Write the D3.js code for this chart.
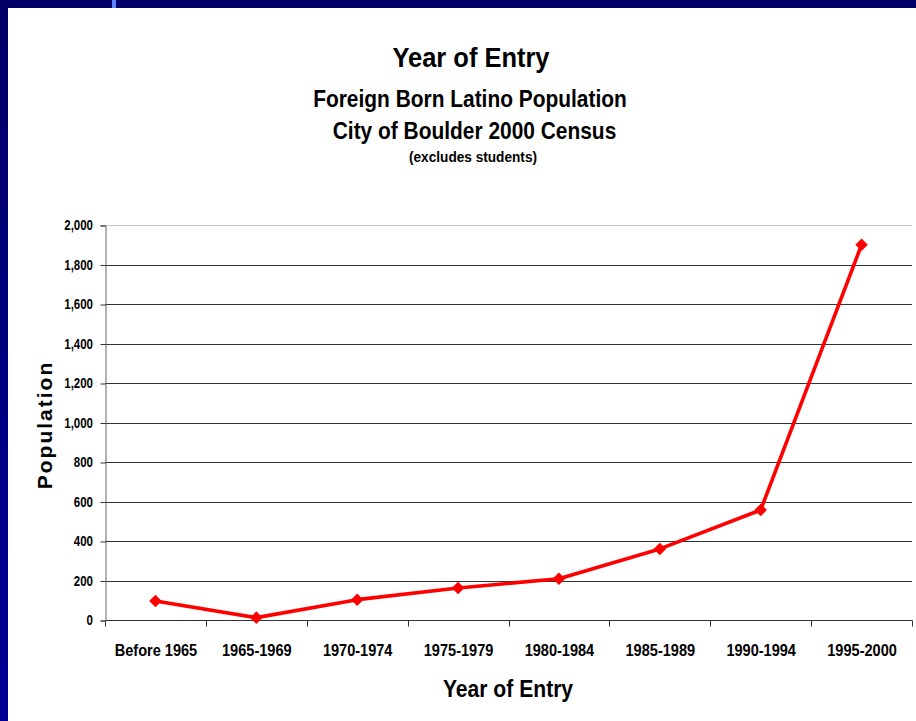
<!DOCTYPE html>
<html>
<head>
<meta charset="utf-8">
<script src="https://cdn.jsdelivr.net/npm/d3@7"></script>
<style>
  html, body { margin: 0; padding: 0; background: #fff; }
  svg { display: block; }
  text { font-family: "Liberation Sans", Arial, sans-serif; font-weight: bold; fill: #000; }
</style>
</head>
<body>
<svg id="chart" width="916" height="721"></svg>
<script>
const categories = ['Before 1965', '1965-1969', '1970-1974', '1975-1979', '1980-1984', '1985-1989', '1990-1994', '1995-2000'];
const population = [96, 12, 103, 162, 209, 360, 557, 1900];
const yTicks = [0, 200, 400, 600, 800, 1000, 1200, 1400, 1600, 1800, 2000];

const width = 916, height = 721;
const margin = { top: 225, right: 4, bottom: 101, left: 105 };
const squeeze = 0.91; // the original font is a bit narrower than Liberation Sans

const svg = d3.select('#chart');

// slide frame
const grad = svg.append('defs').append('linearGradient')
    .attr('id', 'side').attr('x1', 0).attr('y1', 0).attr('x2', 0).attr('y2', 1);
grad.append('stop').attr('offset', '0%').attr('stop-color', '#000066');
grad.append('stop').attr('offset', '100%').attr('stop-color', '#000099');
svg.append('rect').attr('x', 0).attr('y', 0).attr('width', width).attr('height', 8).attr('fill', '#000066');
svg.append('rect').attr('x', 0).attr('y', 0).attr('width', 8).attr('height', height).attr('fill', 'url(#side)');
svg.append('rect').attr('x', 112).attr('y', 0).attr('width', 4).attr('height', 8).attr('fill', '#5a82ff');

const x = d3.scaleBand()
    .domain(categories)
    .range([margin.left, width - margin.right]);
const y = d3.scaleLinear()
    .domain([0, 2000])
    .range([height - margin.bottom, margin.top]);

// gridlines
svg.append('g')
    .selectAll('line')
    .data(yTicks.filter(d => d > 0))
    .join('line')
    .attr('x1', margin.left).attr('x2', width - margin.right)
    .attr('y1', d => Math.round(y(d)) + 0.5).attr('y2', d => Math.round(y(d)) + 0.5)
    .attr('stroke', d => d === 2000 ? '#c8c8c8' : '#333')
    .attr('stroke-width', 1);

// y axis
const yAxis = svg.append('g')
    .attr('transform', `translate(${margin.left + 0.5},0.5)`)
    .call(d3.axisLeft(y).tickValues(yTicks).tickFormat(d3.format(',')).tickSize(5));
yAxis.select('.domain').attr('stroke', '#666');
yAxis.selectAll('.tick line').attr('stroke', '#333');
yAxis.selectAll('text')
    .attr('font-size', 14)
    .attr('x', 0)
    .attr('transform', 'translate(-12.5,0) scale(0.82,1)');

// x axis
const xAxis = svg.append('g')
    .attr('transform', `translate(0.5,${height - margin.bottom + 0.5})`)
    .call(d3.axisBottom(x).tickSize(0));
xAxis.select('.domain').attr('stroke', '#333').attr('d', `M${margin.left},0H${width - margin.right}`);
xAxis.selectAll('text')
    .attr('font-size', 16)
    .attr('y', 0).attr('dy', null)
    .attr('transform', `translate(0,35) scale(${squeeze},1)`);
xAxis.append('g')
    .selectAll('line')
    .data(categories.map(c => x(c)).concat([x.range()[1]]))
    .join('line')
    .attr('x1', d => Math.round(d)).attr('x2', d => Math.round(d))
    .attr('y1', 0).attr('y2', 6)
    .attr('stroke', '#333');

// line
const line = d3.line()
    .x((d, i) => x(categories[i]) + x.bandwidth() / 2)
    .y(d => y(d));
svg.append('path')
    .datum(population)
    .attr('fill', 'none')
    .attr('stroke', '#ff0000')
    .attr('stroke-width', 3.6)
    .attr('stroke-linejoin', 'round')
    .attr('d', line);

svg.append('g')
    .selectAll('path')
    .data(population)
    .join('path')
    .attr('d', d3.symbol(d3.symbolDiamond2, 100))
    .attr('transform', (d, i) => `translate(${x(categories[i]) + x.bandwidth() / 2},${y(d)})`)
    .attr('fill', '#ff0000');

// titles
function label(cx, cy, size, txt, sx = squeeze) {
    svg.append('text')
        .attr('transform', `translate(${cx},${cy}) scale(${sx},1)`)
        .attr('text-anchor', 'middle')
        .attr('font-size', size)
        .text(txt);
}
label(471, 66.5, 28, 'Year of Entry');
label(470, 107, 23, 'Foreign Born Latino Population');
label(474.5, 139, 23, 'City of Boulder 2000 Census');
label(473, 162, 15, '(excludes students)');
label(508, 696.5, 24, 'Year of Entry', 0.88);

svg.append('text')
    .attr('transform', 'translate(52,425) rotate(-90)')
    .attr('text-anchor', 'middle')
    .attr('font-size', 21)
    .attr('letter-spacing', 2)
    .text('Population');
</script>
</body>
</html>
